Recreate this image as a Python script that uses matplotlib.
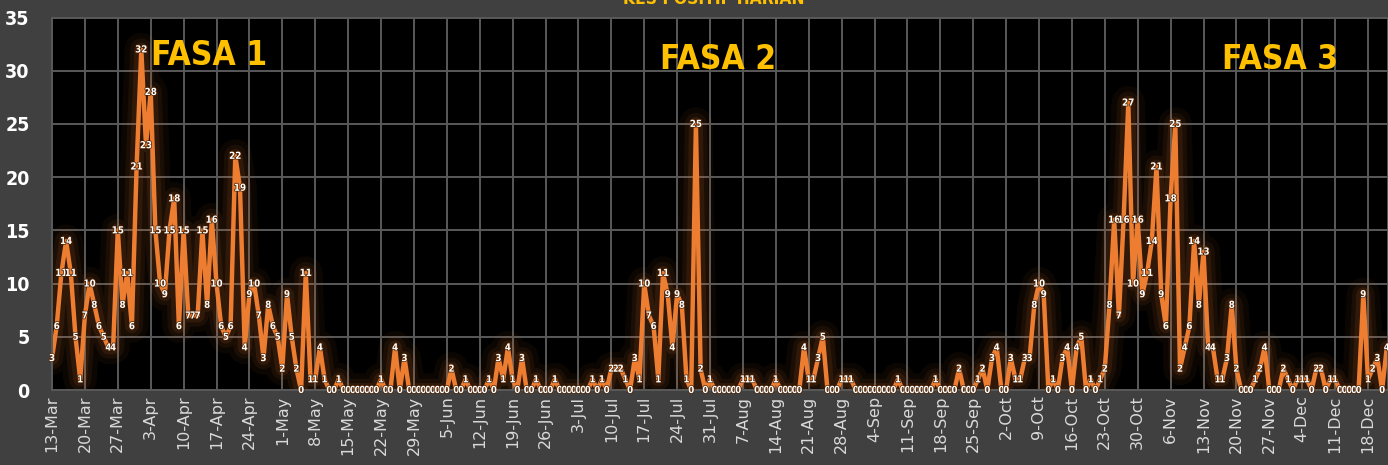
import numpy as np
import pandas as pd
import matplotlib.pyplot as plt
import matplotlib.patheffects as pe

# Kes positif harian, 13 Mac hingga 22 Dis (satu nilai sehari)
mar = [3, 6, 11, 14, 11, 5, 1, 7, 10, 8, 6, 5, 4, 4, 15, 8, 11, 6, 21]
apr = [32, 23, 28, 15, 10, 9, 15, 18, 6, 15, 7, 7, 7, 15, 8, 16, 10, 6, 5, 6,
       22, 19, 4, 9, 10, 7, 3, 8, 6, 5]
may = [2, 9, 5, 2, 0, 11, 1, 1, 4, 1, 0, 0, 1, 0, 0, 0, 0, 0, 0, 0, 0,
       1, 0, 0, 4, 0, 3, 0, 0, 0, 0]
jun = [0, 0, 0, 0, 0, 2, 0, 0, 1, 0, 0, 0, 0, 1, 0, 3, 1, 4, 1, 0,
       3, 0, 0, 1, 0, 0, 0, 1, 0, 0]
jul = [0, 0, 0, 0, 0, 1, 0, 1, 0, 2, 2, 2, 1, 0, 3, 1, 10, 7, 6, 1,
       11, 9, 4, 9, 8, 1, 0, 25, 2, 0, 1]
aug = [0, 0, 0, 0, 0, 0, 1, 1, 1, 0, 0, 0, 0, 1, 0, 0, 0, 0, 0,
       4, 1, 1, 3, 5, 0, 0, 0, 1, 1, 1, 0]
sep = [0, 0, 0, 0, 0, 0, 0, 0, 1, 0, 0, 0, 0, 0, 0, 0, 1, 0,
       0, 0, 0, 2, 0, 0, 0, 1, 2, 0, 3, 4]
oct_ = [0, 0, 3, 1, 1, 3, 3, 8, 10, 9, 0, 1, 0, 3, 4, 0, 4, 5,
        0, 1, 0, 1, 2, 8, 16, 7, 16, 27, 10, 16, 9]
nov = [11, 14, 21, 9, 6, 18, 25, 2, 4, 6, 14, 8, 13, 4, 4, 1, 1,
       3, 8, 2, 0, 0, 0, 1, 2, 4, 0, 0, 0, 2]
dec = [1, 0, 1, 1, 1, 0, 2, 2, 0, 1, 1, 0, 0, 0, 0, 0, 9, 1, 2, 3, 0, 4]

phases = ['FASA 1', 'FASA 2', 'FASA 3']
title = 'KES POSITIF HARIAN'

cases = mar + apr + may + jun + jul + aug + sep + oct_ + nov + dec
dates = pd.date_range('2020-03-13', periods=len(cases), freq='D')
days = np.arange(len(cases))

orange = '#ED7D31'
gold = '#FFC000'
narrow = dict(family=['Liberation Sans Narrow', 'DejaVu Sans'],
              stretch='condensed', weight='bold')

fig = plt.figure(figsize=(13.88, 4.65), dpi=100, facecolor='#404040')
ax = fig.add_axes([52 / 1388, 75 / 465, 1 - 52 / 1388, 372.5 / 465])
ax.set_facecolor('black')

# glow under the line
for lw, a in [(24, 0.05), (16, 0.07), (10, 0.10)]:
    ax.plot(days, cases, color=orange, lw=lw, alpha=a,
            solid_joinstyle='round', solid_capstyle='round')
ax.plot(days, cases, color=orange, lw=3.2, solid_joinstyle='round')

# data labels centred on the points
for d, v in zip(days, cases):
    ax.text(d, v, str(v), ha='center', va='center', color='white',
            fontsize=7, clip_on=False, **narrow,
            path_effects=[pe.withStroke(linewidth=1.0, foreground='#4a2000')])

ax.set_xlim(0, (1388 - 52) / 4.7)
ax.set_ylim(0, 35)
ticks = days[::7]
ax.set_xticks(ticks)
ax.set_xticklabels([f'{t.day}-{t.strftime("%b")}' for t in dates[::7]],
                   rotation=90, color='#d9d9d9', fontsize=11.5)
ax.set_yticks(range(0, 36, 5))
ax.set_yticklabels([str(v) for v in range(0, 36, 5)], color='white',
                   fontsize=14, **narrow)
ax.tick_params(axis='x', length=0, pad=4)
ax.tick_params(axis='y', length=0, pad=16)
ax.grid(True, color='#595959', lw=1.4)
ax.set_axisbelow(True)
for s in ax.spines.values():
    s.set_color('#595959')
    s.set_linewidth(1.4)

for name, (px, py) in zip(phases, [(209, 55), (718, 59), (1280, 59)]):
    ax.text((px - 52) / 4.7, (390 - py) / (372.5 / 35), name, ha='center',
            va='center', color=gold, fontsize=24, **narrow)

fig.text(714 / 1388, 1 - 4 / 465, title, ha='center', va='baseline',
         color=gold, fontsize=12.5, **narrow)

fig.savefig('out.png', dpi=100, facecolor=fig.get_facecolor())
